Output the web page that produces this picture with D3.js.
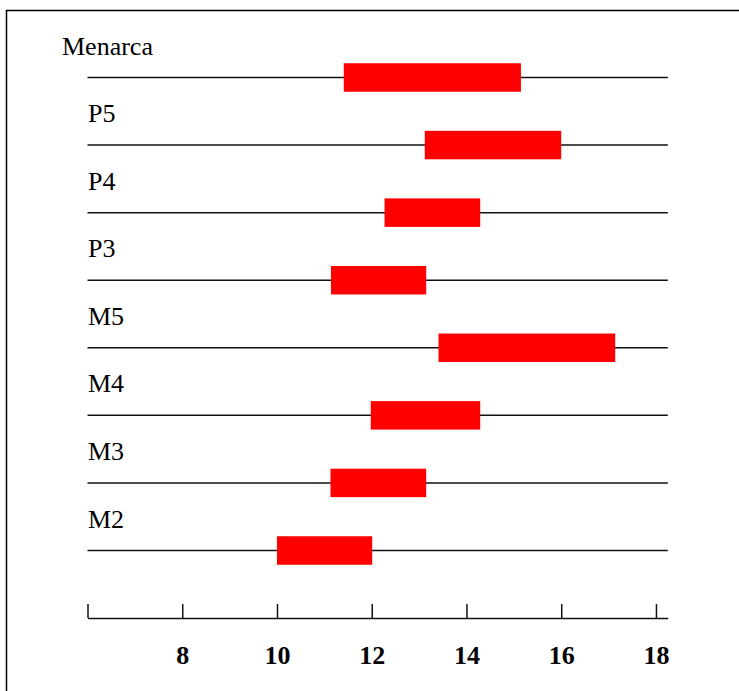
<!DOCTYPE html>
<html>
<head>
<meta charset="utf-8">
<script src="https://cdn.jsdelivr.net/npm/d3@7"></script>
<style>
  html, body { margin: 0; padding: 0; background: #fff; }
  svg { display: block; }
</style>
</head>
<body>
<svg id="chart" width="739" height="691"></svg>
<script>
// Age ranges (years) for each maturation stage, top to bottom
const stages = ["Menarca", "P5", "P4", "P3", "M5", "M4", "M3", "M2"];
const rangeStart = [11.41, 13.12, 12.27, 11.14, 13.41, 11.98, 11.13, 10.0];
const rangeEnd   = [15.15, 16.0, 14.29, 13.15, 17.14, 14.29, 13.15, 12.01];
const tickValues = [6, 8, 10, 12, 14, 16, 18];
const tickLabels = ["", "8", "10", "12", "14", "16", "18"];

const svg = d3.select("#chart");
const serif = "'Liberation Serif', 'Times New Roman', serif";

// frame (top and left edges)
svg.append("path")
  .attr("d", "M6.5,691 V10.5 H739")
  .attr("fill", "none")
  .attr("stroke", "#000")
  .attr("stroke-width", 1.5);

const x = d3.scaleLinear().domain([6, 18.25]).range([87.5, 667.8]);
const y = d3.scalePoint().domain(stages).range([77.5, 550.5]);
const axisY = 618;

const rows = svg.append("g")
  .selectAll("g.row")
  .data(stages.map((s, i) => ({ stage: s, start: rangeStart[i], end: rangeEnd[i] })))
  .join("g")
  .attr("class", "row");

// baseline for each stage
rows.append("line")
  .attr("x1", x(6))
  .attr("x2", x(18.25))
  .attr("y1", d => y(d.stage))
  .attr("y2", d => y(d.stage))
  .attr("stroke", "#111")
  .attr("stroke-width", 1.5);

// age range bar
const barH = 28.5;
rows.append("rect")
  .attr("x", d => x(d.start))
  .attr("width", d => x(d.end) - x(d.start))
  .attr("y", d => y(d.stage) - barH / 2)
  .attr("height", barH)
  .attr("fill", "#ff0000");

// stage labels
rows.append("text")
  .attr("x", (d, i) => i === 0 ? 62 : 88)
  .attr("y", d => y(d.stage) - 23)
  .attr("font-family", serif)
  .attr("font-size", 26)
  .attr("fill", "#000")
  .text(d => d.stage);

// age axis
const axis = d3.axisBottom(x)
  .tickValues(tickValues)
  .tickFormat((d, i) => tickLabels[i])
  .tickSize(-14)
  .tickSizeOuter(0);

const gAxis = svg.append("g")
  .attr("transform", `translate(0,${axisY})`)
  .call(axis);

gAxis.select(".domain").attr("stroke", "#111").attr("stroke-width", 1.5);
gAxis.selectAll(".tick line").attr("stroke", "#111").attr("stroke-width", 1.5);
gAxis.selectAll(".tick text")
  .attr("y", 46)
  .attr("dy", 0)
  .attr("font-family", serif)
  .attr("font-size", 26)
  .attr("font-weight", "bold")
  .attr("fill", "#000");
</script>
</body>
</html>
